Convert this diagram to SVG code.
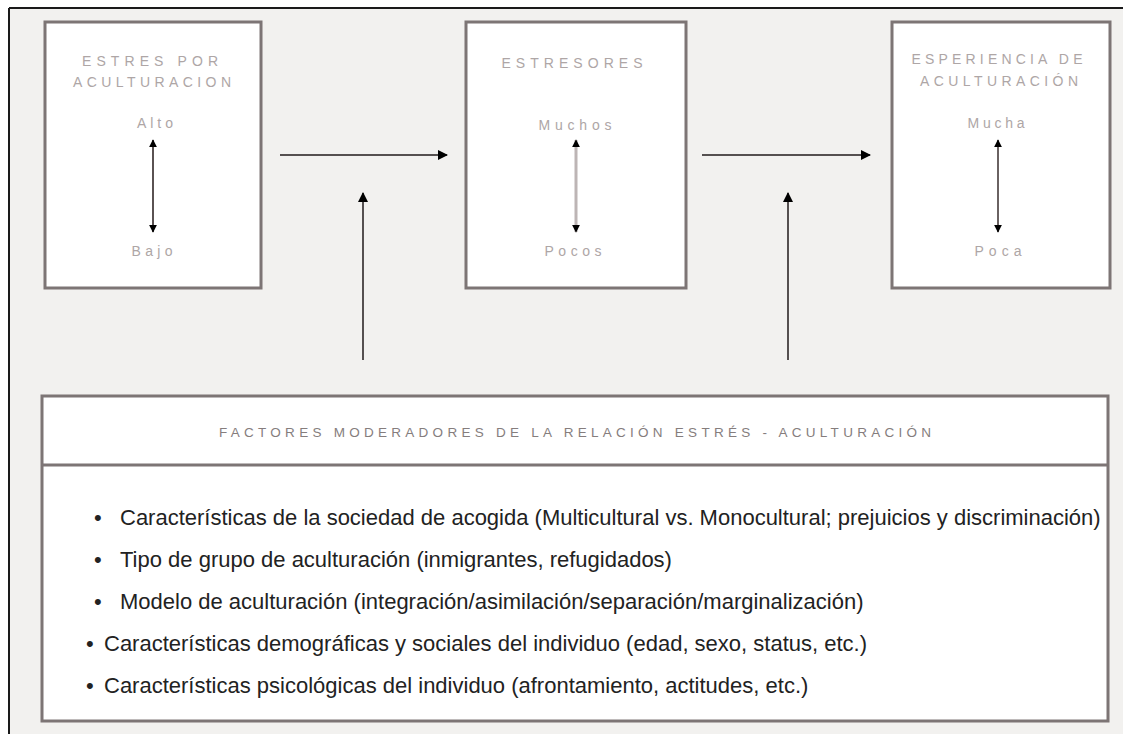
<svg xmlns="http://www.w3.org/2000/svg" width="1123" height="734" viewBox="0 0 1123 734">
<defs>
<style>
.box{fill:#ffffff;stroke:#7d7575;stroke-width:3}
.ttl{font-family:"Liberation Sans",Arial,sans-serif;font-size:14px;fill:#aea6a6;text-anchor:middle}
.lvl{font-family:"Liberation Sans",Arial,sans-serif;font-size:14px;fill:#aea6a6;text-anchor:middle}
.hdr{font-family:"Liberation Sans",Arial,sans-serif;font-size:13.5px;fill:#857d7d;text-anchor:middle}
.itm{font-family:"Liberation Sans",Arial,sans-serif;font-size:22px;fill:#222222}
.conn{stroke:#555050;stroke-width:2;fill:none}
</style>
<marker id="ah" viewBox="0 0 10 10" refX="9" refY="5" markerWidth="10" markerHeight="10" markerUnits="userSpaceOnUse" orient="auto-start-reverse">
<path d="M0,0 L10,5 L0,10 z" fill="#000000"/>
</marker>
<marker id="sh" viewBox="0 0 10 10" refX="9" refY="5" markerWidth="8" markerHeight="8" markerUnits="userSpaceOnUse" orient="auto-start-reverse">
<path d="M0,0 L10,5 L0,10 z" fill="#000000"/>
</marker>
</defs>
<rect x="0" y="0" width="1123" height="734" fill="#ffffff"/>
<rect x="9" y="8" width="1114" height="726" fill="#f2f1ef"/>
<line x1="9" y1="8" x2="1123" y2="8" stroke="#1a1a1a" stroke-width="2"/>
<line x1="9" y1="8" x2="9" y2="734" stroke="#1a1a1a" stroke-width="2"/>

<g id="estres-por-aculturacion">
<rect class="box" x="45" y="22" width="216" height="266"/>
<text class="ttl" x="150" y="66" textLength="136" lengthAdjust="spacing">ESTRES POR</text>
<text class="ttl" x="152" y="87" textLength="158" lengthAdjust="spacing">ACULTURACION</text>
<text class="lvl" x="155" y="128" textLength="36" lengthAdjust="spacing">Alto</text>
<line x1="153" y1="140" x2="153" y2="232" stroke="#5a5252" stroke-width="2" marker-start="url(#sh)" marker-end="url(#sh)"/>
<text class="lvl" x="152" y="256" textLength="41" lengthAdjust="spacing">Bajo</text>
</g>

<g id="estresores">
<rect class="box" x="466" y="22" width="220" height="266"/>
<text class="ttl" x="572" y="68" textLength="141" lengthAdjust="spacing">ESTRESORES</text>
<text class="lvl" x="575" y="130" textLength="73" lengthAdjust="spacing">Muchos</text>
<line x1="576" y1="140" x2="576" y2="232" stroke="#bdb5b5" stroke-width="3" marker-start="url(#sh)" marker-end="url(#sh)"/>
<text class="lvl" x="573" y="256" textLength="57" lengthAdjust="spacing">Pocos</text>
</g>

<g id="esperiencia-de-aculturacion">
<rect class="box" x="892" y="22" width="218" height="266"/>
<text class="ttl" x="997" y="64" textLength="171" lengthAdjust="spacing">ESPERIENCIA DE</text>
<text class="ttl" x="999" y="86" textLength="158" lengthAdjust="spacing">ACULTURACIÓN</text>
<text class="lvl" x="996" y="128" textLength="57" lengthAdjust="spacing">Mucha</text>
<line x1="998" y1="140" x2="998" y2="232" stroke="#6a6262" stroke-width="2" marker-start="url(#sh)" marker-end="url(#sh)"/>
<text class="lvl" x="998" y="256" textLength="47" lengthAdjust="spacing">Poca</text>
</g>

<g id="factores-moderadores">
<rect class="box" x="42" y="396" width="1066" height="325"/>
<line x1="42" y1="465" x2="1108" y2="465" stroke="#7d7575" stroke-width="3"/>
<text class="hdr" x="575" y="437" textLength="712" lengthAdjust="spacing">FACTORES MODERADORES DE LA RELACIÓN ESTRÉS - ACULTURACIÓN</text>
<text class="itm" y="525"><tspan x="94">•</tspan><tspan x="120">Características de la sociedad de acogida (Multicultural vs. Monocultural; prejuicios y discriminación)</tspan></text>
<text class="itm" y="567"><tspan x="94">•</tspan><tspan x="120">Tipo de grupo de aculturación (inmigrantes, refugidados)</tspan></text>
<text class="itm" y="609"><tspan x="94">•</tspan><tspan x="120">Modelo de aculturación (integración/asimilación/separación/marginalización)</tspan></text>
<text class="itm" y="651"><tspan x="86">•</tspan><tspan x="104">Características demográficas y sociales del individuo (edad, sexo, status, etc.)</tspan></text>
<text class="itm" y="693"><tspan x="86">•</tspan><tspan x="104">Características psicológicas del individuo (afrontamiento, actitudes, etc.)</tspan></text>
</g>

<g id="connectors">
<line class="conn" x1="280" y1="155" x2="447" y2="155" marker-end="url(#ah)"/>
<line class="conn" x1="702" y1="155" x2="870" y2="155" marker-end="url(#ah)"/>
<line class="conn" x1="363" y1="360" x2="363" y2="193" marker-end="url(#ah)"/>
<line class="conn" x1="788" y1="360" x2="788" y2="193" marker-end="url(#ah)"/>
</g>
</svg>
